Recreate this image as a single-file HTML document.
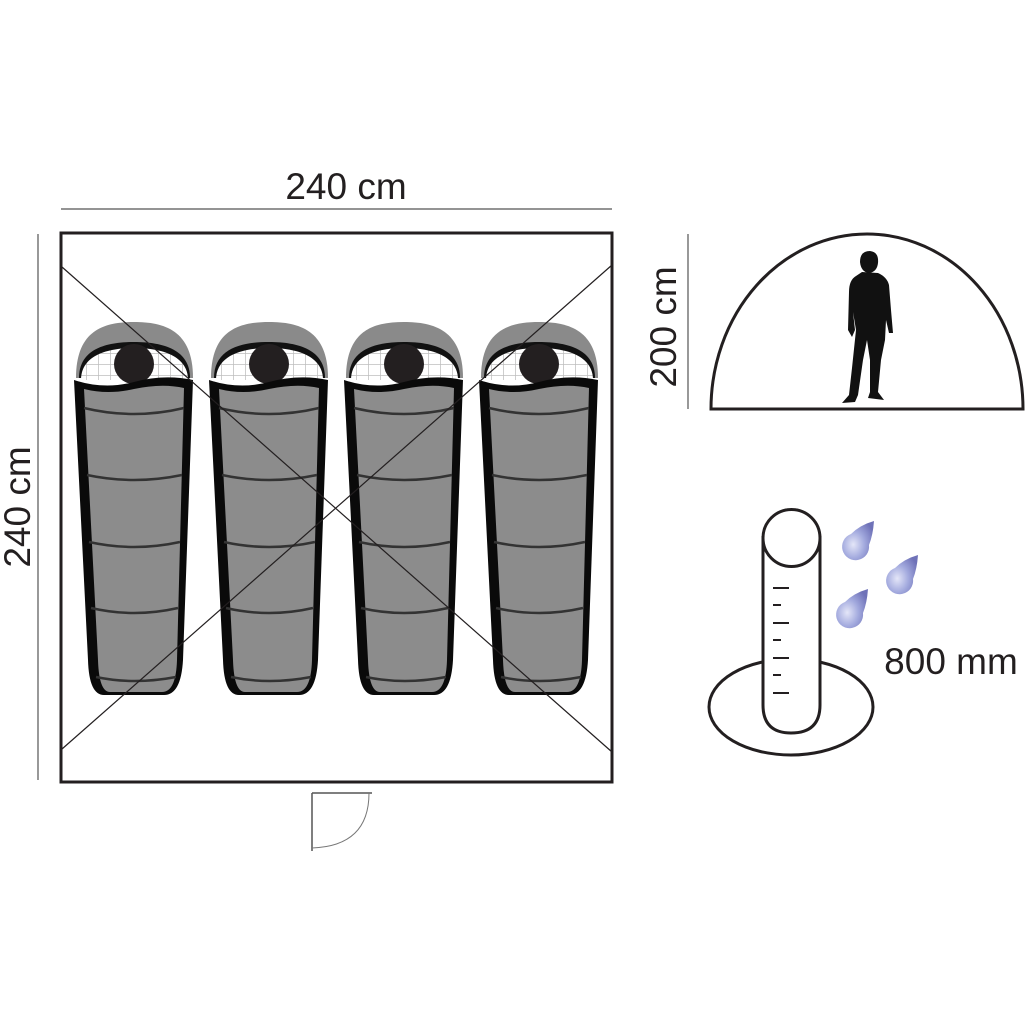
<!DOCTYPE html>
<html><head><meta charset="utf-8"><style>
html,body{margin:0;padding:0;background:#fff;}
svg{display:block}
text{font-family:"Liberation Sans",sans-serif;fill:#231f20}
</style></head><body>
<svg width="1028" height="1028" viewBox="0 0 1028 1028" xmlns="http://www.w3.org/2000/svg">
<defs>
<pattern id="mesh" width="12" height="11" patternUnits="userSpaceOnUse">
<rect width="12" height="11" fill="#fff"/>
<path d="M0 0H12M0 0V11" stroke="#bdbdbd" stroke-width="1.5"/>
</pattern>
<radialGradient id="drop" cx="0.35" cy="0.6" r="0.7">
<stop offset="0" stop-color="#e4e6f8"/><stop offset="0.5" stop-color="#a3aade"/><stop offset="1" stop-color="#6f72b8"/>
</radialGradient>
<g id="bag">
<path d="M2 58 C2 10 30 2 60 2 C90 2 119 10 119 58 Z" fill="#8a8a8a"/>
<path d="M5 58 C5 30 30 22 60 22 C90 22 116 30 116 58 Z" fill="#111"/>
<path d="M7 60 C7 36 32 28 60 28 C88 28 114 36 114 60 Z" fill="url(#mesh)"/>
<circle cx="60" cy="44" r="20" fill="#231f20"/>
<path d="M0 60 Q30 70 60 62 Q90 54 119 60 L109 340 Q107 375 90 375 L30 375 Q15 375 14 340 Z" fill="#0a0a0a"/>
<path d="M10 69 Q34 75 60 69 Q88 63 110 68 L103 340 Q102 372 88 372 L36 372 Q25 372 24 340 Z" fill="#8c8c8c"/>
<g stroke="#333" stroke-width="2.5" fill="none">
<path d="M10 88 Q60 100 110 88"/>
<path d="M13 155 Q60 165 108 155"/>
<path d="M15 222 Q60 232 106 222"/>
<path d="M17 288 Q60 298 104 288"/>
<path d="M22 357 Q60 365 102 357"/>
</g>
</g>
<path id="dr" d="M17 0 Q16 14 12 24 A13.5 13.5 0 1 1 -6 13 Q3 4 17 0 Z" fill="url(#drop)"/>
</defs>

<text x="346" y="199" font-size="37" text-anchor="middle">240 cm</text>
<line x1="61" y1="209" x2="612" y2="209" stroke="#555" stroke-width="1.2"/>
<line x1="38" y1="234" x2="38" y2="780" stroke="#555" stroke-width="1.2"/>
<text transform="translate(30,507) rotate(-90)" font-size="37" text-anchor="middle">240 cm</text>

<use href="#bag" x="74" y="320"/>
<use href="#bag" x="209" y="320"/>
<use href="#bag" x="344" y="320"/>
<use href="#bag" x="479" y="320"/>

<line x1="62" y1="267" x2="612" y2="752" stroke="#231f20" stroke-width="1.2"/>
<line x1="612" y1="265" x2="62" y2="749" stroke="#231f20" stroke-width="1.2"/>
<rect x="61" y="233" width="551" height="549" fill="none" stroke="#231f20" stroke-width="3"/>

<path d="M312 793 V851 M312 793 H372" stroke="#555" stroke-width="1.5" fill="none"/>
<path d="M369 793 Q369 846 312 848" stroke="#777" stroke-width="1" fill="none"/>

<path d="M711 409 A156 175 0 0 1 1023 409 Z" fill="#fff" stroke="#231f20" stroke-width="3"/>
<line x1="688" y1="234" x2="688" y2="409" stroke="#555" stroke-width="1.2"/>
<text transform="translate(676,327) rotate(-90)" font-size="37" text-anchor="middle">200 cm</text>
<g fill="#111">
<path d="M860 262 Q860 251 870 251 Q879 252 878 263 Q877 272 869 273 Q861 272 860 262 Z"/>
<path d="M862 272 L856 276 Q849 280 849 292 L848 330 L852 337 L855 330 L853 312 L856 330 L852 368 L849 395 L842 403 L855 402 L858 395 L863 360 L867 340 L870 360 L870 392 L868 398 L884 400 L878 392 L881 360 L885 340 L886 320 L889 333 L893 333 L891 310 L889 285 Q887 277 878 273 Z"/>
</g>

<ellipse cx="791" cy="707" rx="82" ry="48" fill="#fff" stroke="#231f20" stroke-width="3"/>
<path d="M763 536 V705 Q763 733 791 733 Q820 733 820 705 V536" fill="#fff" stroke="#231f20" stroke-width="3"/>
<circle cx="791.5" cy="538" r="28.5" fill="#fff" stroke="#231f20" stroke-width="3"/>
<g stroke="#231f20" stroke-width="2">
<line x1="773" y1="588" x2="789" y2="588"/>
<line x1="773" y1="605" x2="781" y2="605"/>
<line x1="773" y1="623" x2="789" y2="623"/>
<line x1="773" y1="640" x2="781" y2="640"/>
<line x1="773" y1="658" x2="789" y2="658"/>
<line x1="773" y1="675" x2="781" y2="675"/>
<line x1="773" y1="693" x2="789" y2="693"/>
</g>
<use href="#dr" x="857" y="521"/>
<use href="#dr" x="901" y="555"/>
<use href="#dr" x="851" y="589"/>
<text x="951" y="674" font-size="37" text-anchor="middle">800 mm</text>
</svg>
</body></html>
